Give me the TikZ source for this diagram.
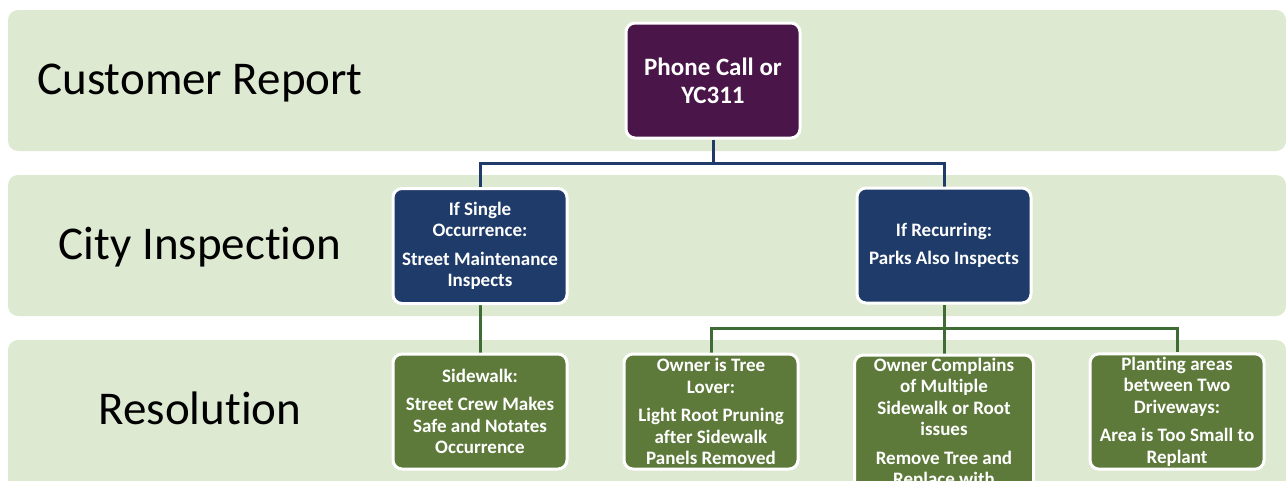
\documentclass[tikz,border=0pt]{standalone}
\usepackage{fontspec}
\setmainfont{Carlito}[Ligatures=NoCommon]
\usetikzlibrary{positioning, backgrounds}
\definecolor{cband}{HTML}{DEE9D2}
\definecolor{cpurple}{HTML}{4A1548}
\definecolor{cnavy}{HTML}{1F3B69}
\definecolor{cgreen}{HTML}{5E7A3B}
\definecolor{cgline}{HTML}{3F6B35}
\tikzset{
  band/.style={fill=cband, rounded corners=10pt},
  box/.style={draw=white, fill=#1, line width=3pt, rounded corners=9pt, align=center, text=white,
    font=\bfseries\fontsize{19}{21.5}\selectfont, minimum width=174pt, minimum height=115pt, inner sep=3pt},
  box/.default=cnavy,
  lane/.style={font=\fontsize{47}{55}\selectfont, anchor=base},
  link/.style={draw=#1, line width=3pt},
}

\begin{document}
\begin{tikzpicture}[x=1pt, y=-1pt]
  \useasboundingbox (0,0) rectangle (1286,480);
  \clip (0,0) rectangle (1286,480);
  \begin{scope}[on background layer]
    \foreach \t/\b in {10/151, 175/316, 340/500} {
      \fill[band] (8,\t) rectangle (1286,\b);
    }
  \end{scope}
  \foreach \n/\y/\txt in {report/94/Customer Report, inspect/259/City Inspection, resol/424/Resolution} {
    \node[lane] (\n) at (200,\y) {\txt};
  }
  \node[box=cpurple, font=\bfseries\fontsize{25}{28}\selectfont] (phone) at (713,80.5) {Phone Call or\\YC311};
  \node[box] (single) at (480,246) {If Single\\Occurrence:\\[7pt]Street Maintenance\\Inspects};
  \node[box] (recur) at (944,245.5) {If Recurring:\\[7pt]Parks Also Inspects};
  \foreach \n/\x/\txt in {
     sidewalk/480/{Sidewalk:\\[7pt]Street Crew Makes\\Safe and Notates\\Occurrence},
     treelover/711/{Owner is Tree\\Lover:\\[7pt]Light Root Pruning\\after Sidewalk\\Panels Removed},
     planting/1177/{Planting areas\\between Two\\Driveways:\\[7pt]Area is Too Small to\\Replant}} {
    \node[box=cgreen] (\n) at (\x,411.5) {\txt};
  }
  \node[box=cgreen, anchor=north, minimum width=179pt, minimum height=0pt] (complain) at (944,353.5)
    {Owner Complains\\of Multiple\\Sidewalk or Root\\issues\\[7pt]Remove Tree and\\Replace with};
  \coordinate (fork) at (713,163);
  \coordinate (split) at (944,328);
  \begin{scope}[on background layer]
    \draw[link=cnavy] (phone.south) -- (fork) -| (single.north);
    \draw[link=cnavy] (fork) -| (recur.north);
    \draw[link=cgline] (single.south) -- (sidewalk.north);
    \draw[link=cgline] (recur.south) -- (split) -| (treelover.north);
    \draw[link=cgline] (split) -| (planting.north);
    \draw[link=cgline] (split) -- (complain.north);
  \end{scope}
\end{tikzpicture}
\end{document}
